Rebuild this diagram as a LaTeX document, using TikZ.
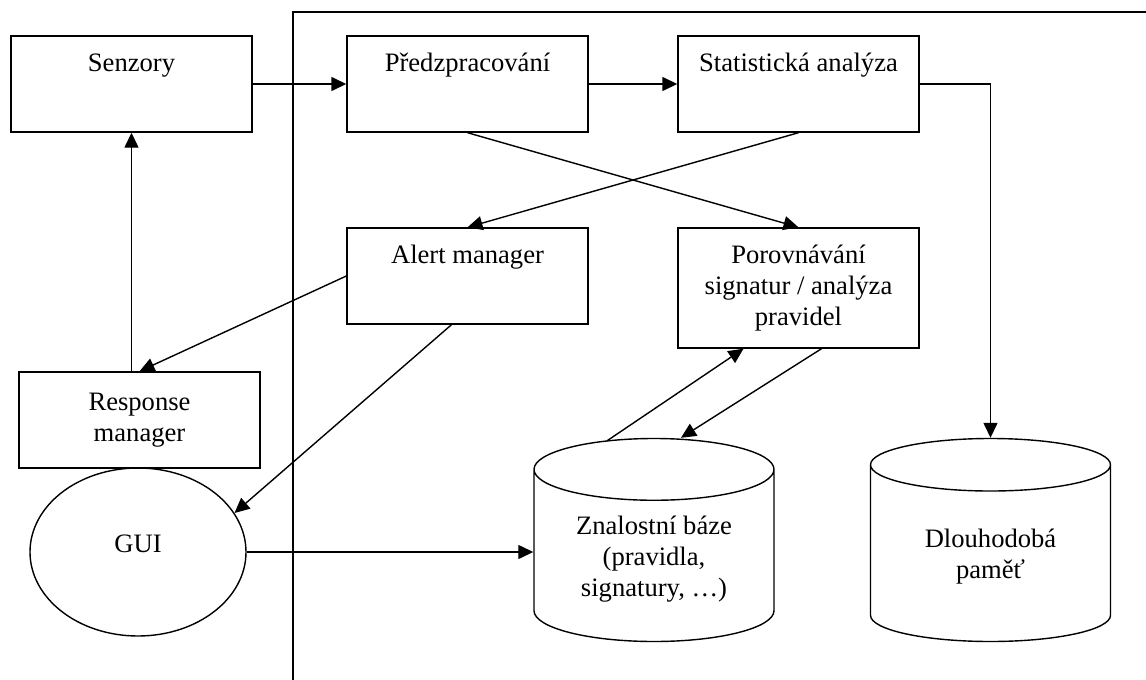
\documentclass[tikz,border=0pt]{standalone}
\usepackage{fontspec}
\setmainfont{Liberation Serif}
\usetikzlibrary{arrows.meta,shapes.geometric}

\tikzset{
    box/.style={draw, minimum width=241pt, minimum height=96pt, align=center},
    onetop/.style={text height=35pt, text depth=61pt, inner ysep=0pt},
    store/.style={draw, cylinder, shape border rotate=90, aspect=0.38,
        minimum width=240pt, minimum height=203pt, anchor=shape center},
    arr/.style={-{Triangle[length=15pt,width=14pt]}}
}

\begin{document}
\begin{tikzpicture}[
    x=1pt,
    y=-1pt,
    line width=1.4pt,
    every node/.style={font=\fontsize{26.6}{31}\selectfont}
]

    \useasboundingbox (0,0) rectangle (1146,680);

    \draw (293,680) |- (1146,12);

    \node[box, onetop] (senzory) at (131.5,84) {Senzory};
    \node[box, onetop] (predz) at (467.5,84) {Předzpracování};
    \node[box, onetop] (stat) at (798.5,84) {Statistická analýza};
    \node[box, onetop] (alert) at (467.5,276) {Alert manager};
    \node[box, minimum height=120pt] (porovn) at (798.5,288) {Porovnávání\\signatur / analýza\\pravidel};
    \node[box] (response) at (139.5,420) {Response\\manager};
    \node[draw, ellipse, minimum width=216pt, minimum height=168pt,
        text height=18pt, text depth=18pt] (gui) at (138,552) {GUI};
    \node[store, align=center] (znal) at (654,540) {Znalostní báze\\(pravidla,\\signatury, …)};
    \node[store, align=center] (dlouh) at (990.5,540) {Dlouhodobá\\paměť};

    \draw[arr] (senzory) -- (predz);
    \draw[arr] (predz) -- (stat);
    \draw[arr] (stat.east) -| (dlouh.north);
    \draw[arr] (predz.south) -- (porovn.north);
    \draw[arr] (stat.south) -- (alert.north);
    \draw[arr] (alert.west) -- (response.north);
    \draw[arr] (senzory.south |- response.north) -- (senzory.south);
    \draw[arr] ([xshift=-16pt]alert.south) -- (gui.22);
    \draw[arr] (gui.east) -- (gui.east -| znal.west);
    \draw[arr] ([xshift=23pt]porovn.south) -- ([xshift=27pt]znal.north);
    \draw[arr] ([shift={(-47pt,-3pt)}]znal.north) -- ([xshift=-55pt]porovn.south);

\end{tikzpicture}
\end{document}
